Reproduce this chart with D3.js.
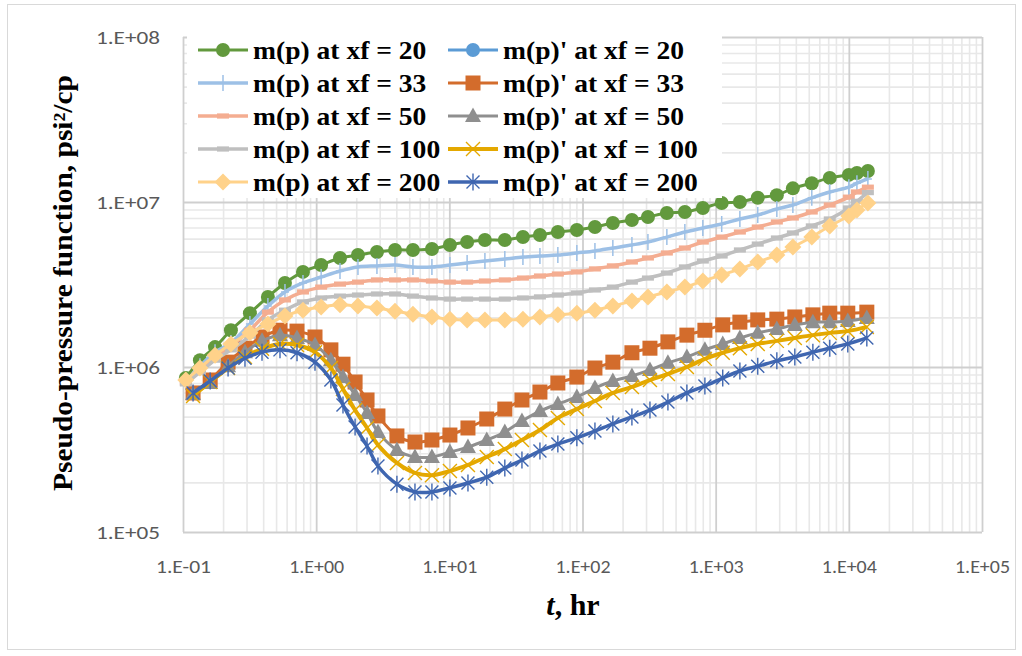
<!DOCTYPE html>
<html>
<head>
<meta charset="utf-8">
<script src="https://cdn.jsdelivr.net/npm/d3@7"></script>
<style>
  body { margin: 0; background: #fff; }
  svg { display: block; }
</style>
</head>
<body>
<div id="chart"></div>
<script>
// time points (hr) for m(p) curves and for the derivative curves
const tHours = [0.105, 0.134, 0.174, 0.229, 0.318, 0.434, 0.583, 0.796, 1.09, 1.51,
                2.06, 2.86, 3.91, 5.33, 7.40, 10.1, 13.6, 18.5, 26.1, 35.7,
                47.9, 65.3, 90.7, 124, 169, 235, 310, 430, 587, 801,
                1110, 1520, 2070, 2880, 3800, 5270, 7190, 10000, 11500, 13900];
const tDeriv = [0.119, 0.160, 0.218, 0.292, 0.392, 0.535, 0.718, 0.98, 1.29, 1.59,
                1.96, 2.41, 2.91, 4.04, 5.52, 7.40, 10.1, 13.8, 19.1, 26.1,
                35.1, 47.9, 65.3, 90.7, 124, 169, 235, 321, 438, 608,
                830, 1130, 1520, 2070, 2880, 3930, 5370, 7190, 9820, 13650];

const mp20 = [8.57e5, 1.10e6, 1.32e6, 1.67e6, 2.12e6, 2.66e6, 3.23e6, 3.77e6, 4.15e6, 4.58e6,
              4.77e6, 4.98e6, 5.12e6, 5.12e6, 5.19e6, 5.49e6, 5.72e6, 5.88e6, 5.88e6, 6.13e6,
              6.31e6, 6.58e6, 6.77e6, 7.05e6, 7.46e6, 7.78e6, 8.11e6, 8.58e6, 8.70e6, 9.20e6,
              9.86e6, 1.0e7, 1.06e7, 1.10e7, 1.21e7, 1.30e7, 1.40e7, 1.46e7, 1.50e7, 1.54e7];
const mp33 = [8.11e5, 1.01e6, 1.23e6, 1.40e6, 1.82e6, 2.34e6, 2.85e6, 3.23e6, 3.51e6, 3.82e6,
              4.04e6, 4.10e6, 4.15e6, 4.04e6, 4.04e6, 4.15e6, 4.27e6, 4.39e6, 4.51e6, 4.64e6,
              4.71e6, 4.77e6, 4.91e6, 5.05e6, 5.26e6, 5.49e6, 5.72e6, 6.13e6, 6.58e6, 6.96e6,
              7.36e6, 7.89e6, 8.34e6, 9.07e6, 9.59e6, 1.06e7, 1.15e7, 1.23e7, 1.30e7, 1.38e7];
const mp50 = [8.0e5, 9.6e5, 1.15e6, 1.34e6, 1.67e6, 2.15e6, 2.55e6, 2.85e6, 3.05e6, 3.18e6,
              3.27e6, 3.37e6, 3.37e6, 3.37e6, 3.32e6, 3.27e6, 3.27e6, 3.32e6, 3.37e6, 3.46e6,
              3.56e6, 3.66e6, 3.77e6, 3.93e6, 4.10e6, 4.33e6, 4.58e6, 4.91e6, 5.26e6, 5.72e6,
              6.13e6, 6.58e6, 7.05e6, 7.57e6, 8.0e6, 8.70e6, 9.59e6, 1.07e7, 1.15e7, 1.23e7];
const mp100 = [7.9e5, 9.3e5, 1.10e6, 1.27e6, 1.54e6, 1.93e6, 2.21e6, 2.48e6, 2.62e6, 2.69e6,
               2.73e6, 2.77e6, 2.77e6, 2.69e6, 2.62e6, 2.58e6, 2.58e6, 2.58e6, 2.58e6, 2.62e6,
               2.66e6, 2.73e6, 2.81e6, 2.93e6, 3.05e6, 3.27e6, 3.46e6, 3.71e6, 4.04e6, 4.39e6,
               4.71e6, 5.12e6, 5.56e6, 6.05e6, 6.49e6, 7.16e6, 7.89e6, 9.20e6, 1.01e7, 1.14e7];
const mp200 = [8.34e5, 9.86e5, 1.18e6, 1.38e6, 1.61e6, 1.82e6, 2.04e6, 2.21e6, 2.31e6, 2.38e6,
               2.34e6, 2.28e6, 2.18e6, 2.09e6, 2.01e6, 1.95e6, 1.93e6, 1.93e6, 1.93e6, 1.95e6,
               2.01e6, 2.07e6, 2.12e6, 2.21e6, 2.34e6, 2.51e6, 2.66e6, 2.85e6, 3.05e6, 3.32e6,
               3.61e6, 3.93e6, 4.33e6, 4.77e6, 5.33e6, 6.13e6, 7.16e6, 8.22e6, 8.95e6, 9.86e6];

const dmp20 = [];  // in legend only, not visible on the plot
const dmp33 = [6.96e5, 8.34e5, 1.07e6, 1.30e6, 1.52e6, 1.67e6, 1.65e6, 1.52e6, 1.27e6, 1.04e6,
               8.11e5, 6.31e5, 5.05e5, 3.82e5, 3.51e5, 3.61e5, 3.87e5, 4.27e5, 4.84e5, 5.56e5,
               6.31e5, 7.05e5, 8.0e5, 8.69e5, 9.86e5, 1.07e6, 1.22e6, 1.30e6, 1.42e6, 1.56e6,
               1.67e6, 1.80e6, 1.87e6, 1.93e6, 1.95e6, 2.01e6, 2.07e6, 2.12e6, 2.12e6, 2.15e6];
const dmp50 = [6.86e5, 8.0e5, 1.01e6, 1.23e6, 1.44e6, 1.56e6, 1.50e6, 1.36e6, 1.10e6, 8.69e5,
               6.76e5, 5.26e5, 4.04e5, 3.14e5, 2.85e5, 2.85e5, 3.05e5, 3.27e5, 3.61e5, 4.04e5,
               4.71e5, 5.41e5, 5.97e5, 6.58e5, 7.46e5, 8.22e5, 8.82e5, 9.6e5, 1.06e6, 1.15e6,
               1.27e6, 1.38e6, 1.50e6, 1.61e6, 1.70e6, 1.80e6, 1.87e6, 1.87e6, 1.90e6, 1.98e6];
const dmp100 = [6.67e5, 8.11e5, 9.86e5, 1.15e6, 1.29e6, 1.38e6, 1.36e6, 1.23e6, 9.86e5, 7.36e5,
                5.48e5, 4.27e5, 3.37e5, 2.62e5, 2.28e5, 2.21e5, 2.34e5, 2.55e5, 2.85e5, 3.18e5,
                3.61e5, 4.15e5, 4.91e5, 5.56e5, 6.22e5, 6.96e5, 7.57e5, 8.34e5, 9.07e5, 1.0e6,
                1.12e6, 1.22e6, 1.30e6, 1.38e6, 1.44e6, 1.50e6, 1.56e6, 1.61e6, 1.65e6, 1.75e6];
const dmp200 = [6.96e5, 8.22e5, 9.86e5, 1.13e6, 1.23e6, 1.27e6, 1.22e6, 1.07e6, 8.34e5, 5.89e5,
                4.33e5, 3.32e5, 2.51e5, 1.95e5, 1.75e5, 1.75e5, 1.85e5, 1.98e5, 2.15e5, 2.44e5,
                2.73e5, 3.10e5, 3.41e5, 3.72e5, 4.09e5, 4.52e5, 4.98e5, 5.48e5, 6.13e5, 6.96e5,
                7.67e5, 8.57e5, 9.46e5, 1.01e6, 1.09e6, 1.15e6, 1.23e6, 1.30e6, 1.38e6, 1.50e6];

const xTicks = [0.1, 1, 10, 100, 1000, 10000, 100000];
const yTicks = [1e5, 1e6, 1e7, 1e8];

const series = [
  { name: "m(p) at xf = 20",    t: tHours, v: mp20,   color: "#62993d", lw: 3,   marker: "circle" },
  { name: "m(p)' at xf = 20",   t: tDeriv, v: dmp20,  color: "#5b9bd5", lw: 3,   marker: "circle" },
  { name: "m(p) at xf = 33",    t: tHours, v: mp33,   color: "#9dc0e6", lw: 3.5, marker: "plus" },
  { name: "m(p)' at xf = 33",   t: tDeriv, v: dmp33,  color: "#d36c2c", lw: 3,   marker: "square" },
  { name: "m(p) at xf = 50",    t: tHours, v: mp50,   color: "#f4ad91", lw: 3.5, marker: "dash" },
  { name: "m(p)' at xf = 50",   t: tDeriv, v: dmp50,  color: "#8f8f8f", lw: 3,   marker: "triangle" },
  { name: "m(p) at xf = 100",   t: tHours, v: mp100,  color: "#bfbfbf", lw: 3.5, marker: "dash" },
  { name: "m(p)' at xf = 100",  t: tDeriv, v: dmp100, color: "#e4a800", lw: 4,   marker: "x" },
  { name: "m(p) at xf = 200",   t: tHours, v: mp200,  color: "#ffd28a", lw: 3,   marker: "diamond" },
  { name: "m(p)' at xf = 200",  t: tDeriv, v: dmp200, color: "#3f66b0", lw: 3.5, marker: "star" }
];

const width = 1022, height = 656;
const plotL = 183, plotR = 982, plotT = 37, plotB = 532;

const svg = d3.select("#chart").append("svg")
    .attr("width", width)
    .attr("height", height);

svg.append("rect")
    .attr("x", 7.5).attr("y", 4.5)
    .attr("width", 1008).attr("height", 645)
    .attr("fill", "#fff")
    .attr("stroke", "#d9d9d9");

const x = d3.scaleLog().domain([0.1, 1e5]).range([plotL, plotR]);
const y = d3.scaleLog().domain([1e5, 1e8]).range([plotB, plotT]);

const isMajor = d => Math.abs(Math.log10(d) - Math.round(Math.log10(d))) < 1e-9;

// minor grid
svg.append("g")
    .attr("transform", `translate(0,${plotB})`)
    .call(d3.axisBottom(x).tickValues(x.ticks().filter(d => !isMajor(d))).tickSize(-(plotB - plotT)).tickFormat(""))
    .call(g => g.select(".domain").remove())
    .selectAll("line").attr("stroke", "#e8e8e8").attr("stroke-width", 1.6);
svg.append("g")
    .attr("transform", `translate(${plotL},0)`)
    .call(d3.axisLeft(y).tickValues(y.ticks().filter(d => !isMajor(d))).tickSize(-(plotR - plotL)).tickFormat(""))
    .call(g => g.select(".domain").remove())
    .selectAll("line").attr("stroke", "#e8e8e8").attr("stroke-width", 1.6);

// major grid
svg.append("g")
    .attr("transform", `translate(0,${plotB})`)
    .call(d3.axisBottom(x).tickValues(xTicks).tickSize(-(plotB - plotT)).tickFormat(""))
    .call(g => g.select(".domain").remove())
    .selectAll("line").attr("stroke", "#cfcfcf").attr("stroke-width", 1.8);
svg.append("g")
    .attr("transform", `translate(${plotL},0)`)
    .call(d3.axisLeft(y).tickValues(yTicks).tickSize(-(plotR - plotL)).tickFormat(""))
    .call(g => g.select(".domain").remove())
    .selectAll("line").attr("stroke", "#cfcfcf").attr("stroke-width", 1.8);

function sci(d) {
  const e = Math.round(Math.log10(d));
  return "1.E" + (e < 0 ? "-" : "+") + String(Math.abs(e)).padStart(2, "0");
}

const tickFont = "Carlito, Calibri, 'Liberation Sans Narrow', 'Open Sans', sans-serif";

const xAxis = svg.append("g")
    .attr("transform", `translate(0,${plotB})`)
    .call(d3.axisBottom(x).tickValues(xTicks).tickFormat(sci).tickSize(0));
xAxis.select(".domain").remove();
xAxis.selectAll("text")
    .attr("y", 35).attr("dy", "0.35em")
    .attr("fill", "#595959")
    .style("font-family", tickFont).style("font-size", "18px")
    .attr("textLength", 55).attr("lengthAdjust", "spacingAndGlyphs");

const yAxis = svg.append("g")
    .attr("transform", `translate(${plotL},0)`)
    .call(d3.axisLeft(y).tickValues(yTicks).tickFormat(sci).tickSize(0));
yAxis.select(".domain").remove();
yAxis.selectAll("text")
    .attr("x", -23).attr("dy", "0.35em")
    .attr("fill", "#595959")
    .style("font-family", tickFont).style("font-size", "18px")
    .attr("textLength", 64).attr("lengthAdjust", "spacingAndGlyphs");

// markers
function marker(g, type, color, cx, cy) {
  const m = g.append("g").attr("transform", `translate(${cx},${cy})`);
  if (type === "circle") {
    m.append("circle").attr("r", 7).attr("fill", color);
  } else if (type === "square") {
    m.append("rect").attr("x", -7.5).attr("y", -7.5).attr("width", 15).attr("height", 15).attr("fill", color);
  } else if (type === "triangle") {
    m.append("path").attr("d", "M0,-8.5L8,6L-8,6Z").attr("fill", color);
  } else if (type === "diamond") {
    m.append("path").attr("d", "M0,-8.5L8.5,0L0,8.5L-8.5,0Z").attr("fill", color);
  } else if (type === "dash") {
    m.append("rect").attr("x", -6).attr("y", -2.6).attr("width", 12).attr("height", 5.2).attr("fill", color);
  } else if (type === "plus") {
    m.append("path").attr("d", "M0,-8V8M-4,0H4").attr("stroke", color).attr("stroke-width", 1.5);
  } else if (type === "x") {
    m.append("path").attr("d", "M-7,-7L7,7M-7,7L7,-7").attr("stroke", color).attr("stroke-width", 1.4);
  } else if (type === "star") {
    m.append("path").attr("d", "M-6.5,-6.5L6.5,6.5M-6.5,6.5L6.5,-6.5M0,-8.5V8.5").attr("stroke", color).attr("stroke-width", 1.4);
  }
}

const line = d3.line()
    .x(d => x(d[0]))
    .y(d => y(d[1]))
    .curve(d3.curveCatmullRom.alpha(0.5));

const plot = svg.append("g");
series.forEach(s => {
  const pts = s.v.map((v, i) => [s.t[i], v]);
  if (!pts.length) return;
  const g = plot.append("g");
  g.append("path")
      .attr("d", line(pts))
      .attr("fill", "none")
      .attr("stroke", s.color)
      .attr("stroke-width", s.lw)
      .attr("stroke-linejoin", "round");
  pts.forEach(p => marker(g, s.marker, s.color, x(p[0]), y(p[1])));
});

// legend
svg.append("rect")
    .attr("x", 187).attr("y", 31)
    .attr("width", 535).attr("height", 167)
    .attr("fill", "#fff");

const legend = svg.append("g");
series.forEach((s, i) => {
  const col = i % 2, row = Math.floor(i / 2);
  const lx = col === 0 ? 198 : 448;
  const ly = 50 + row * 33;
  const g = legend.append("g");
  g.append("line")
      .attr("x1", lx).attr("x2", lx + 50)
      .attr("y1", ly).attr("y2", ly)
      .attr("stroke", s.color).attr("stroke-width", s.lw);
  marker(g, s.marker, s.color, lx + 25, ly);
  const txt = g.append("text")
      .attr("x", lx + 55).attr("y", ly)
      .attr("dy", "0.35em")
      .style("font-family", "'Liberation Serif', 'Times New Roman', serif")
      .style("font-weight", "bold")
      .style("font-size", "26px")
      .attr("fill", "#000")
      .text(s.name);
  const w = txt.node().getComputedTextLength();
  txt.attr("textLength", w * 1.06).attr("lengthAdjust", "spacingAndGlyphs");
});

// axis titles
svg.append("text")
    .attr("transform", "translate(72,283) rotate(-90)")
    .attr("text-anchor", "middle")
    .style("font-family", "'Liberation Serif', 'Times New Roman', serif")
    .style("font-weight", "bold")
    .style("font-size", "27px")
    .attr("textLength", 416).attr("lengthAdjust", "spacingAndGlyphs")
    .text("Pseudo-pressure function, psi²/cp");

const xt = svg.append("text")
    .attr("x", 573).attr("y", 615)
    .attr("text-anchor", "middle")
    .style("font-family", "'Liberation Serif', 'Times New Roman', serif")
    .style("font-weight", "bold")
    .style("font-size", "30px");
xt.append("tspan").style("font-style", "italic").text("t");
xt.append("tspan").text(", hr");
</script>
</body>
</html>
